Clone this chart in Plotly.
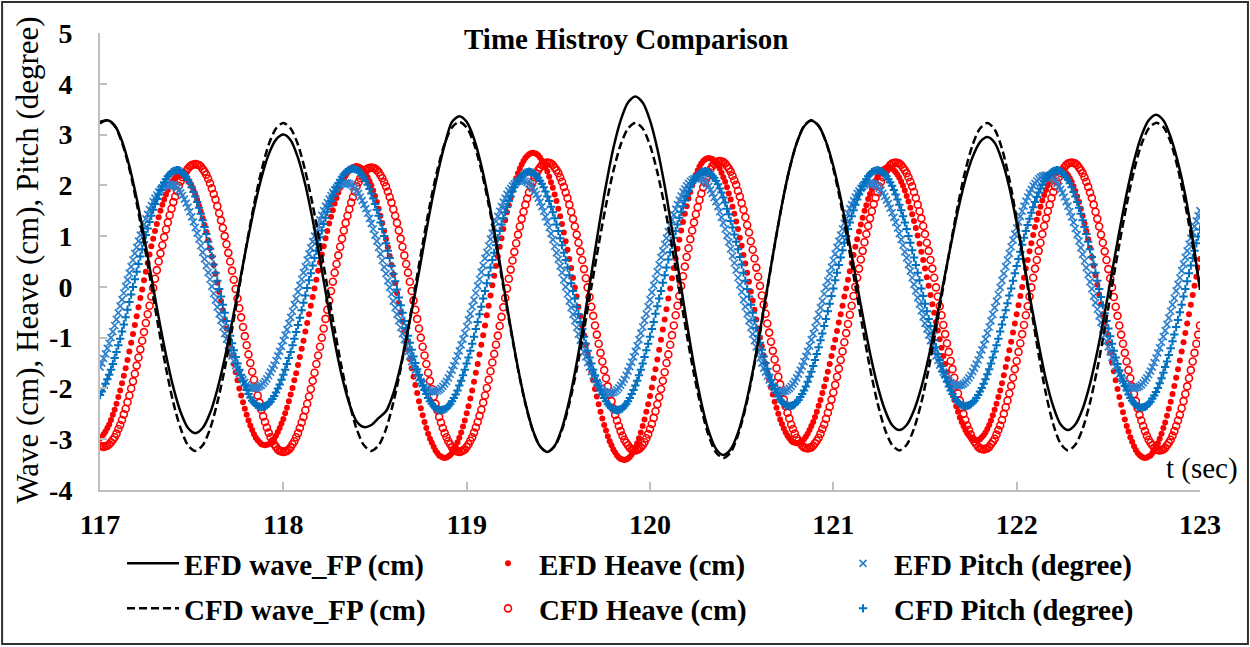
import plotly.graph_objects as go

# ---------------- data ----------------
T0 = 117.0
DT_MARK = 0.01   # sampling step of the heave / pitch series (s)
DT_WAVE = 0.04   # sampling step of the wave series (s)

efd_heave = [
    -2.98, -2.95, -2.90, -2.85, -2.78, -2.71, -2.62, -2.52, -2.42, -2.30, -2.17, -2.04, -1.90, -1.75, -1.60, -1.44, -1.27, -1.10, -0.93, -0.75, -0.58, -0.40, -0.22, -0.05, 0.13, 0.30, 0.47, 0.64, 0.80, 0.95, 1.10, 1.24, 1.37, 1.50, 1.62, 1.72, 1.82, 1.91, 1.98, 2.05, 2.10, 2.15, 2.18, 2.19, 2.20,
    2.20, 2.18, 2.14, 2.10, 2.05, 1.98, 1.90, 1.81, 1.71, 1.60, 1.48, 1.35, 1.22, 1.08, 0.92, 0.76, 0.60, 0.43, 0.26, 0.08, -0.10, -0.28, -0.46, -0.64, -0.82, -1.00, -1.18, -1.35, -1.52, -1.68, -1.84, -2.00, -2.14, -2.27, -2.40, -2.52, -2.63, -2.73, -2.82, -2.90, -2.97, -3.02, -3.06, -3.10, -3.11, -3.12,
    -3.11, -3.10, -3.07, -3.04, -2.99, -2.93, -2.86, -2.78, -2.69, -2.60, -2.49, -2.38, -2.25, -2.12, -1.99, -1.84, -1.70, -1.54, -1.38, -1.22, -1.06, -0.88, -0.71, -0.54, -0.37, -0.20, -0.03, 0.14, 0.32, 0.48, 0.64, 0.80, 0.96, 1.10, 1.25, 1.38, 1.51, 1.64, 1.75, 1.86, 1.95, 2.04, 2.12, 2.19, 2.25, 2.30, 2.33, 2.36, 2.37, 2.38,
    2.37, 2.35, 2.33, 2.28, 2.23, 2.16, 2.08, 2.00, 1.90, 1.79, 1.67, 1.54, 1.40, 1.26, 1.10, 0.94, 0.78, 0.61, 0.43, 0.25, 0.07, -0.12, -0.31, -0.50, -0.68, -0.87, -1.06, -1.24, -1.42, -1.60, -1.77, -1.93, -2.09, -2.25, -2.39, -2.53, -2.66, -2.78, -2.89, -2.99, -3.07, -3.15, -3.22, -3.27, -3.32, -3.34, -3.36, -3.37,
    -3.36, -3.34, -3.31, -3.27, -3.21, -3.14, -3.06, -2.97, -2.87, -2.75, -2.63, -2.49, -2.35, -2.20, -2.04, -1.87, -1.69, -1.52, -1.33, -1.14, -0.95, -0.76, -0.56, -0.37, -0.17, 0.03, 0.22, 0.41, 0.60, 0.79, 0.96, 1.14, 1.31, 1.47, 1.61, 1.76, 1.90, 2.02, 2.14, 2.24, 2.33, 2.41, 2.48, 2.54, 2.58, 2.61, 2.63, 2.64,
    2.63, 2.62, 2.59, 2.55, 2.49, 2.43, 2.35, 2.27, 2.17, 2.06, 1.95, 1.82, 1.69, 1.54, 1.39, 1.24, 1.07, 0.90, 0.73, 0.55, 0.37, 0.18, -0.01, -0.19, -0.39, -0.58, -0.76, -0.95, -1.14, -1.32, -1.50, -1.67, -1.84, -2.01, -2.16, -2.31, -2.46, -2.59, -2.72, -2.83, -2.94, -3.04, -3.12, -3.20, -3.26, -3.32, -3.36, -3.39, -3.40, -3.41,
    -3.40, -3.38, -3.35, -3.30, -3.24, -3.16, -3.08, -2.98, -2.87, -2.74, -2.61, -2.46, -2.31, -2.15, -1.98, -1.80, -1.62, -1.43, -1.24, -1.04, -0.84, -0.64, -0.44, -0.23, -0.03, 0.17, 0.37, 0.56, 0.75, 0.93, 1.11, 1.28, 1.44, 1.59, 1.74, 1.87, 2.00, 2.11, 2.21, 2.29, 2.37, 2.43, 2.48, 2.51, 2.53, 2.54,
    2.53, 2.52, 2.49, 2.44, 2.39, 2.33, 2.25, 2.16, 2.07, 1.96, 1.84, 1.72, 1.58, 1.44, 1.29, 1.14, 0.97, 0.81, 0.63, 0.46, 0.28, 0.10, -0.09, -0.27, -0.45, -0.64, -0.82, -1.00, -1.17, -1.35, -1.51, -1.68, -1.83, -1.98, -2.12, -2.26, -2.38, -2.50, -2.61, -2.70, -2.79, -2.87, -2.93, -2.98, -3.03, -3.06, -3.07, -3.08,
    -3.07, -3.06, -3.03, -3.00, -2.95, -2.89, -2.82, -2.74, -2.66, -2.56, -2.46, -2.34, -2.23, -2.09, -1.96, -1.82, -1.67, -1.52, -1.36, -1.20, -1.04, -0.87, -0.70, -0.54, -0.37, -0.19, -0.03, 0.14, 0.31, 0.47, 0.63, 0.79, 0.94, 1.09, 1.23, 1.36, 1.50, 1.61, 1.73, 1.83, 1.93, 2.01, 2.09, 2.16, 2.22, 2.27, 2.30, 2.33, 2.34, 2.35,
    2.34, 2.33, 2.30, 2.26, 2.21, 2.15, 2.07, 1.99, 1.90, 1.79, 1.68, 1.56, 1.43, 1.30, 1.16, 1.01, 0.85, 0.69, 0.53, 0.36, 0.19, 0.02, -0.16, -0.34, -0.51, -0.69, -0.86, -1.03, -1.20, -1.36, -1.52, -1.68, -1.83, -1.97, -2.10, -2.23, -2.35, -2.46, -2.57, -2.66, -2.74, -2.82, -2.88, -2.93, -2.97, -3.00, -3.01, -3.02,
    -3.01, -3.00, -2.96, -2.92, -2.87, -2.80, -2.72, -2.63, -2.53, -2.42, -2.30, -2.17, -2.04, -1.90, -1.74, -1.58, -1.42, -1.25, -1.08, -0.90, -0.72, -0.54, -0.36, -0.18, 0.00, 0.18, 0.36, 0.53, 0.70, 0.86, 1.02, 1.18, 1.32, 1.45, 1.58, 1.70, 1.81, 1.91, 2.00, 2.08, 2.15, 2.20, 2.24, 2.28, 2.29, 2.30,
    2.29, 2.27, 2.24, 2.20, 2.14, 2.07, 1.98, 1.89, 1.78, 1.67, 1.54, 1.40, 1.25, 1.10, 0.94, 0.77, 0.59, 0.42, 0.23, 0.04, -0.15, -0.34, -0.54, -0.73, -0.92, -1.11, -1.30, -1.49, -1.66, -1.84, -2.01, -2.17, -2.32, -2.47, -2.61, -2.74, -2.85, -2.96, -3.05, -3.14, -3.21, -3.27, -3.31, -3.34, -3.36, -3.37,
    -3.36, -3.34, -3.32, -3.27, -3.22, -3.16, -3.08, -2.99, -2.89, -2.78, -2.67, -2.54, -2.40, -2.26, -2.11, -1.95, -1.79, -1.62, -1.45, -1.27, -1.09, -0.91, -0.72, -0.54, -0.35, -0.16, 0.02, 0.20, 0.38, 0.55,
]

cfd_heave = [
    -3.13, -3.14,
    -3.15, -3.14, -3.13, -3.10, -3.06, -3.01, -2.96, -2.89, -2.80, -2.72, -2.62, -2.51, -2.40, -2.27, -2.14, -2.00, -1.86, -1.71, -1.55, -1.39, -1.23, -1.06, -0.89, -0.71, -0.54, -0.37, -0.19, -0.02, 0.16, 0.33, 0.50, 0.66, 0.82, 0.98, 1.13, 1.27, 1.41, 1.54, 1.67, 1.78, 1.89, 1.99, 2.08, 2.16, 2.23, 2.28, 2.33, 2.37, 2.40, 2.41, 2.42,
    2.41, 2.40, 2.37, 2.32, 2.27, 2.21, 2.13, 2.04, 1.94, 1.83, 1.72, 1.59, 1.45, 1.31, 1.16, 1.00, 0.84, 0.67, 0.50, 0.32, 0.14, -0.04, -0.23, -0.42, -0.60, -0.79, -0.97, -1.15, -1.33, -1.50, -1.67, -1.83, -1.99, -2.14, -2.28, -2.42, -2.55, -2.66, -2.77, -2.87, -2.96, -3.04, -3.10, -3.15, -3.20, -3.23, -3.24, -3.25,
    -3.24, -3.23, -3.20, -3.16, -3.10, -3.04, -2.96, -2.88, -2.78, -2.67, -2.56, -2.43, -2.30, -2.16, -2.01, -1.85, -1.69, -1.52, -1.35, -1.18, -1.00, -0.82, -0.63, -0.45, -0.27, -0.08, 0.10, 0.28, 0.45, 0.62, 0.79, 0.95, 1.11, 1.26, 1.40, 1.53, 1.66, 1.77, 1.88, 1.98, 2.06, 2.14, 2.20, 2.26, 2.30, 2.33, 2.34, 2.35,
    2.34, 2.33, 2.30, 2.26, 2.20, 2.14, 2.06, 1.98, 1.88, 1.77, 1.66, 1.53, 1.40, 1.26, 1.11, 0.95, 0.79, 0.62, 0.45, 0.28, 0.10, -0.08, -0.27, -0.45, -0.63, -0.82, -1.00, -1.18, -1.35, -1.52, -1.69, -1.85, -2.01, -2.16, -2.30, -2.43, -2.56, -2.67, -2.78, -2.88, -2.96, -3.04, -3.10, -3.16, -3.20, -3.23, -3.24, -3.25,
    -3.24, -3.22, -3.20, -3.15, -3.10, -3.03, -2.96, -2.87, -2.77, -2.66, -2.54, -2.42, -2.28, -2.14, -1.99, -1.83, -1.66, -1.49, -1.32, -1.14, -0.96, -0.77, -0.59, -0.40, -0.22, -0.03, 0.16, 0.34, 0.52, 0.69, 0.86, 1.03, 1.19, 1.34, 1.48, 1.62, 1.74, 1.86, 1.97, 2.07, 2.16, 2.23, 2.30, 2.35, 2.40, 2.42, 2.44, 2.45,
    2.44, 2.43, 2.40, 2.35, 2.30, 2.24, 2.16, 2.07, 1.97, 1.86, 1.75, 1.62, 1.48, 1.34, 1.19, 1.03, 0.87, 0.70, 0.53, 0.35, 0.17, -0.01, -0.20, -0.39, -0.57, -0.76, -0.94, -1.12, -1.30, -1.47, -1.64, -1.80, -1.96, -2.11, -2.25, -2.39, -2.52, -2.63, -2.74, -2.84, -2.93, -3.01, -3.07, -3.12, -3.17, -3.20, -3.21, -3.22,
    -3.21, -3.19, -3.16, -3.12, -3.06, -2.98, -2.90, -2.80, -2.70, -2.58, -2.45, -2.31, -2.17, -2.01, -1.85, -1.68, -1.50, -1.33, -1.14, -0.95, -0.76, -0.56, -0.37, -0.18, 0.02, 0.21, 0.40, 0.59, 0.76, 0.94, 1.11, 1.27, 1.43, 1.57, 1.71, 1.84, 1.96, 2.06, 2.16, 2.24, 2.32, 2.38, 2.42, 2.45, 2.47, 2.48,
    2.47, 2.46, 2.43, 2.38, 2.33, 2.27, 2.19, 2.10, 2.01, 1.89, 1.78, 1.65, 1.52, 1.37, 1.22, 1.07, 0.90, 0.73, 0.56, 0.38, 0.20, 0.02, -0.17, -0.35, -0.53, -0.72, -0.90, -1.08, -1.26, -1.43, -1.60, -1.77, -1.92, -2.07, -2.22, -2.35, -2.48, -2.59, -2.71, -2.80, -2.89, -2.97, -3.03, -3.08, -3.13, -3.16, -3.17, -3.18,
    -3.17, -3.16, -3.13, -3.08, -3.03, -2.97, -2.89, -2.80, -2.71, -2.60, -2.48, -2.36, -2.22, -2.08, -1.93, -1.77, -1.61, -1.44, -1.27, -1.09, -0.91, -0.73, -0.55, -0.37, -0.18, 0.00, 0.18, 0.36, 0.54, 0.71, 0.88, 1.04, 1.20, 1.35, 1.49, 1.63, 1.75, 1.87, 1.98, 2.07, 2.16, 2.24, 2.30, 2.35, 2.40, 2.43, 2.44, 2.45,
    2.44, 2.43, 2.40, 2.35, 2.30, 2.24, 2.16, 2.07, 1.98, 1.87, 1.75, 1.62, 1.49, 1.35, 1.20, 1.04, 0.87, 0.71, 0.53, 0.36, 0.18, -0.01, -0.19, -0.38, -0.56, -0.75, -0.93, -1.11, -1.28, -1.46, -1.62, -1.79, -1.95, -2.10, -2.24, -2.37, -2.50, -2.62, -2.73, -2.82, -2.91, -2.99, -3.05, -3.10, -3.15, -3.18, -3.19, -3.20,
    -3.19, -3.18, -3.15, -3.10, -3.05, -2.99, -2.91, -2.82, -2.73, -2.62, -2.50, -2.37, -2.24, -2.10, -1.95, -1.79, -1.62, -1.46, -1.28, -1.11, -0.93, -0.75, -0.56, -0.38, -0.19, -0.01, 0.18, 0.36, 0.53, 0.71, 0.87, 1.04, 1.20, 1.35, 1.49, 1.62, 1.75, 1.87, 1.98, 2.07, 2.16, 2.24, 2.30, 2.35, 2.40, 2.43, 2.44, 2.45,
    2.44, 2.43, 2.40, 2.35, 2.30, 2.24, 2.16, 2.07, 1.97, 1.86, 1.75, 1.62, 1.48, 1.34, 1.19, 1.03, 0.87, 0.70, 0.53, 0.35, 0.17, -0.01, -0.20, -0.39, -0.57, -0.76, -0.94, -1.12, -1.30, -1.47, -1.64, -1.80, -1.96, -2.11, -2.25, -2.39, -2.52, -2.63, -2.74, -2.84, -2.93, -3.01, -3.07, -3.12, -3.17, -3.20, -3.21, -3.22,
    -3.21, -3.20, -3.17, -3.12, -3.07, -3.01, -2.93, -2.84, -2.74, -2.63, -2.52, -2.39, -2.25, -2.11, -1.96, -1.80, -1.64, -1.47, -1.30, -1.12, -0.94, -0.76,
]

efd_pitch = [
    -1.58, -1.50, -1.41, -1.32, -1.21, -1.11, -1.00, -0.88, -0.76, -0.64, -0.51, -0.38, -0.25, -0.12, 0.01, 0.14, 0.27, 0.40, 0.53, 0.66, 0.78, 0.90, 1.02, 1.13, 1.23, 1.34, 1.43, 1.52, 1.60, 1.68, 1.75, 1.81, 1.87, 1.91, 1.95, 1.98, 2.00, 2.01, 2.02,
    2.01, 2.00, 1.98, 1.95, 1.90, 1.85, 1.80, 1.73, 1.65, 1.57, 1.48, 1.38, 1.28, 1.17, 1.06, 0.94, 0.81, 0.68, 0.55, 0.42, 0.28, 0.15, 0.01, -0.13, -0.26, -0.40, -0.53, -0.66, -0.79, -0.92, -1.03, -1.15, -1.26, -1.36, -1.46, -1.55, -1.63, -1.71, -1.78, -1.83, -1.88, -1.93, -1.96, -1.98, -1.99, -2.00,
    -2.00, -1.98, -1.96, -1.94, -1.90, -1.86, -1.81, -1.75, -1.68, -1.61, -1.54, -1.45, -1.36, -1.27, -1.17, -1.06, -0.95, -0.84, -0.72, -0.60, -0.48, -0.35, -0.23, -0.10, 0.03, 0.15, 0.28, 0.40, 0.53, 0.65, 0.77, 0.89, 1.00, 1.11, 1.22, 1.32, 1.41, 1.50, 1.59, 1.66, 1.73, 1.80, 1.86, 1.91, 1.95, 1.99, 2.01, 2.03, 2.04, 2.05,
    2.05, 2.03, 2.01, 1.98, 1.94, 1.89, 1.84, 1.77, 1.70, 1.62, 1.54, 1.45, 1.35, 1.25, 1.14, 1.02, 0.90, 0.78, 0.65, 0.52, 0.39, 0.26, 0.12, -0.01, -0.14, -0.28, -0.41, -0.54, -0.67, -0.80, -0.92, -1.04, -1.16, -1.27, -1.37, -1.47, -1.56, -1.64, -1.72, -1.79, -1.86, -1.91, -1.96, -2.00, -2.03, -2.05, -2.06, -2.07,
    -2.07, -2.05, -2.03, -2.00, -1.96, -1.91, -1.86, -1.79, -1.72, -1.64, -1.55, -1.46, -1.36, -1.26, -1.14, -1.03, -0.91, -0.78, -0.65, -0.53, -0.39, -0.26, -0.12, 0.02, 0.15, 0.29, 0.42, 0.56, 0.68, 0.81, 0.94, 1.06, 1.17, 1.29, 1.39, 1.49, 1.58, 1.67, 1.75, 1.82, 1.89, 1.94, 1.99, 2.03, 2.06, 2.08, 2.09, 2.10,
    2.10, 2.08, 2.06, 2.03, 1.99, 1.94, 1.88, 1.82, 1.75, 1.67, 1.58, 1.49, 1.38, 1.28, 1.17, 1.05, 0.93, 0.80, 0.67, 0.54, 0.41, 0.28, 0.14, 0.00, -0.14, -0.28, -0.41, -0.54, -0.67, -0.80, -0.93, -1.05, -1.17, -1.28, -1.38, -1.49, -1.58, -1.67, -1.75, -1.82, -1.88, -1.94, -1.99, -2.03, -2.06, -2.08, -2.09, -2.10,
    -2.09, -2.08, -2.06, -2.03, -1.99, -1.94, -1.88, -1.82, -1.74, -1.66, -1.57, -1.48, -1.38, -1.27, -1.16, -1.04, -0.91, -0.79, -0.66, -0.53, -0.39, -0.25, -0.11, 0.03, 0.16, 0.30, 0.44, 0.58, 0.71, 0.84, 0.96, 1.09, 1.21, 1.32, 1.42, 1.53, 1.62, 1.71, 1.79, 1.87, 1.93, 1.99, 2.04, 2.08, 2.11, 2.13, 2.14, 2.15,
    2.14, 2.13, 2.11, 2.07, 2.03, 1.98, 1.91, 1.84, 1.76, 1.68, 1.58, 1.48, 1.37, 1.26, 1.14, 1.01, 0.88, 0.75, 0.61, 0.47, 0.33, 0.18, 0.04, -0.10, -0.25, -0.39, -0.53, -0.67, -0.80, -0.93, -1.06, -1.18, -1.29, -1.40, -1.50, -1.60, -1.68, -1.76, -1.83, -1.90, -1.95, -1.99, -2.03, -2.05, -2.06, -2.07,
    -2.06, -2.05, -2.03, -2.00, -1.96, -1.91, -1.86, -1.79, -1.72, -1.64, -1.56, -1.47, -1.37, -1.27, -1.16, -1.04, -0.92, -0.80, -0.67, -0.54, -0.41, -0.28, -0.14, -0.01, 0.12, 0.26, 0.39, 0.52, 0.65, 0.78, 0.90, 1.02, 1.14, 1.25, 1.35, 1.45, 1.54, 1.62, 1.70, 1.77, 1.84, 1.89, 1.94, 1.98, 2.01, 2.03, 2.04, 2.05,
    2.04, 2.03, 2.01, 1.98, 1.94, 1.90, 1.84, 1.78, 1.71, 1.64, 1.55, 1.46, 1.37, 1.27, 1.16, 1.05, 0.93, 0.82, 0.69, 0.57, 0.44, 0.31, 0.18, 0.05, -0.08, -0.21, -0.34, -0.47, -0.59, -0.72, -0.83, -0.95, -1.06, -1.17, -1.27, -1.36, -1.45, -1.54, -1.61, -1.68, -1.74, -1.80, -1.84, -1.88, -1.91, -1.93, -1.94, -1.95,
    -1.94, -1.93, -1.91, -1.88, -1.84, -1.79, -1.74, -1.67, -1.60, -1.52, -1.44, -1.34, -1.24, -1.14, -1.03, -0.91, -0.79, -0.67, -0.54, -0.41, -0.28, -0.15, -0.01, 0.13, 0.26, 0.40, 0.53, 0.66, 0.79, 0.92, 1.04, 1.16, 1.28, 1.39, 1.49, 1.59, 1.69, 1.77, 1.85, 1.92, 1.99, 2.04, 2.09, 2.13, 2.16, 2.18, 2.19, 2.20,
    2.19, 2.18, 2.16, 2.13, 2.09, 2.04, 1.98, 1.92, 1.85, 1.77, 1.68, 1.59, 1.48, 1.38, 1.27, 1.15, 1.03, 0.90, 0.77, 0.64, 0.51, 0.38, 0.24, 0.10, -0.04, -0.18, -0.31, -0.44, -0.57, -0.70, -0.83, -0.95, -1.07, -1.18, -1.28, -1.39, -1.48, -1.57, -1.65, -1.72, -1.78, -1.84, -1.89, -1.93, -1.96, -1.98, -1.99, -2.00,
    -1.99, -1.98, -1.96, -1.93, -1.89, -1.84, -1.79, -1.73, -1.66, -1.58, -1.49, -1.40, -1.30, -1.20, -1.09, -0.98, -0.86, -0.74, -0.61, -0.48, -0.35, -0.22, -0.08, 0.05, 0.18, 0.32, 0.45, 0.58, 0.71, 0.84, 0.96, 1.08, 1.19, 1.30, 1.40, 1.50,
]

cfd_pitch = [
    -2.13, -2.06, -1.99, -1.91, -1.82, -1.73, -1.63, -1.52, -1.40, -1.28, -1.15, -1.02, -0.88, -0.74, -0.60, -0.45, -0.30, -0.15, 0.00, 0.15, 0.30, 0.45, 0.60, 0.74, 0.88, 1.02, 1.15, 1.28, 1.40, 1.52, 1.63, 1.73, 1.82, 1.91, 1.99, 2.06, 2.12, 2.18, 2.22, 2.26, 2.28, 2.29, 2.30,
    2.30, 2.28, 2.25, 2.21, 2.17, 2.11, 2.04, 1.96, 1.87, 1.78, 1.67, 1.56, 1.44, 1.31, 1.18, 1.04, 0.89, 0.75, 0.60, 0.44, 0.28, 0.12, -0.04, -0.19, -0.35, -0.51, -0.67, -0.82, -0.96, -1.11, -1.25, -1.38, -1.51, -1.63, -1.74, -1.85, -1.94, -2.03, -2.11, -2.18, -2.24, -2.28, -2.32, -2.35, -2.36, -2.37,
    -2.36, -2.35, -2.33, -2.30, -2.26, -2.21, -2.15, -2.08, -2.00, -1.92, -1.83, -1.73, -1.63, -1.52, -1.40, -1.28, -1.15, -1.02, -0.89, -0.75, -0.61, -0.46, -0.31, -0.17, -0.02, 0.13, 0.27, 0.42, 0.57, 0.71, 0.85, 0.98, 1.11, 1.24, 1.36, 1.48, 1.59, 1.69, 1.79, 1.88, 1.96, 2.04, 2.11, 2.17, 2.22, 2.26, 2.29, 2.31, 2.32, 2.33,
    2.32, 2.31, 2.29, 2.25, 2.20, 2.15, 2.09, 2.01, 1.93, 1.84, 1.74, 1.63, 1.52, 1.40, 1.27, 1.14, 1.00, 0.86, 0.71, 0.57, 0.41, 0.26, 0.11, -0.05, -0.21, -0.36, -0.51, -0.67, -0.81, -0.96, -1.10, -1.24, -1.37, -1.50, -1.62, -1.73, -1.84, -1.94, -2.03, -2.11, -2.19, -2.25, -2.30, -2.35, -2.39, -2.41, -2.42, -2.43,
    -2.42, -2.41, -2.39, -2.35, -2.31, -2.25, -2.19, -2.12, -2.04, -1.94, -1.85, -1.74, -1.63, -1.51, -1.39, -1.26, -1.12, -0.98, -0.83, -0.69, -0.54, -0.39, -0.23, -0.08, 0.07, 0.23, 0.38, 0.53, 0.67, 0.82, 0.96, 1.10, 1.23, 1.35, 1.47, 1.58, 1.69, 1.78, 1.88, 1.96, 2.03, 2.09, 2.15, 2.19, 2.23, 2.25, 2.26, 2.27,
    2.26, 2.25, 2.23, 2.19, 2.15, 2.09, 2.03, 1.96, 1.88, 1.78, 1.69, 1.58, 1.47, 1.35, 1.23, 1.10, 0.96, 0.82, 0.67, 0.53, 0.38, 0.23, 0.07, -0.08, -0.23, -0.39, -0.54, -0.69, -0.83, -0.98, -1.12, -1.26, -1.39, -1.51, -1.63, -1.74, -1.85, -1.94, -2.04, -2.12, -2.19, -2.25, -2.31, -2.35, -2.39, -2.41, -2.42, -2.43,
    -2.42, -2.41, -2.39, -2.35, -2.31, -2.25, -2.19, -2.11, -2.03, -1.94, -1.85, -1.74, -1.63, -1.51, -1.38, -1.25, -1.12, -0.98, -0.83, -0.69, -0.53, -0.38, -0.23, -0.08, 0.08, 0.23, 0.38, 0.54, 0.68, 0.83, 0.97, 1.10, 1.23, 1.36, 1.48, 1.59, 1.70, 1.79, 1.88, 1.96, 2.04, 2.10, 2.16, 2.20, 2.24, 2.26, 2.27, 2.28,
    2.27, 2.26, 2.23, 2.19, 2.15, 2.09, 2.02, 1.94, 1.86, 1.76, 1.66, 1.54, 1.43, 1.30, 1.17, 1.03, 0.89, 0.74, 0.59, 0.44, 0.28, 0.12, -0.04, -0.19, -0.35, -0.51, -0.66, -0.81, -0.96, -1.10, -1.24, -1.37, -1.50, -1.61, -1.73, -1.83, -1.93, -2.01, -2.09, -2.16, -2.22, -2.26, -2.30, -2.33, -2.34, -2.35,
    -2.34, -2.33, -2.31, -2.27, -2.23, -2.17, -2.11, -2.04, -1.96, -1.87, -1.77, -1.67, -1.56, -1.44, -1.32, -1.19, -1.05, -0.92, -0.77, -0.63, -0.48, -0.33, -0.18, -0.03, 0.13, 0.28, 0.43, 0.58, 0.72, 0.87, 1.00, 1.14, 1.27, 1.39, 1.51, 1.62, 1.72, 1.82, 1.91, 1.99, 2.06, 2.12, 2.18, 2.22, 2.26, 2.28, 2.29, 2.30,
    2.29, 2.28, 2.26, 2.22, 2.18, 2.12, 2.06, 1.99, 1.91, 1.82, 1.72, 1.62, 1.51, 1.39, 1.27, 1.14, 1.00, 0.87, 0.72, 0.58, 0.43, 0.28, 0.13, -0.03, -0.18, -0.33, -0.48, -0.63, -0.77, -0.92, -1.05, -1.19, -1.32, -1.44, -1.56, -1.67, -1.77, -1.87, -1.96, -2.04, -2.11, -2.17, -2.23, -2.27, -2.31, -2.33, -2.34, -2.35,
    -2.34, -2.33, -2.31, -2.28, -2.24, -2.19, -2.13, -2.06, -1.99, -1.91, -1.82, -1.72, -1.62, -1.51, -1.39, -1.27, -1.15, -1.02, -0.88, -0.74, -0.60, -0.46, -0.32, -0.17, -0.03, 0.12, 0.27, 0.41, 0.55, 0.69, 0.83, 0.97, 1.10, 1.22, 1.34, 1.46, 1.57, 1.67, 1.77, 1.86, 1.94, 2.01, 2.08, 2.14, 2.19, 2.23, 2.26, 2.28, 2.29, 2.30,
    2.29, 2.28, 2.25, 2.21, 2.16, 2.11, 2.04, 1.96, 1.87, 1.78, 1.67, 1.56, 1.44, 1.31, 1.18, 1.04, 0.89, 0.74, 0.59, 0.44, 0.28, 0.12, -0.04, -0.20, -0.36, -0.52, -0.67, -0.82, -0.97, -1.12, -1.26, -1.39, -1.52, -1.64, -1.75, -1.86, -1.95, -2.04, -2.12, -2.19, -2.24, -2.29, -2.33, -2.36, -2.37, -2.38,
    -2.37, -2.36, -2.34, -2.30, -2.26, -2.20, -2.14, -2.07, -1.99, -1.90, -1.80, -1.69, -1.58, -1.47, -1.34, -1.21, -1.07, -0.94, -0.79, -0.65, -0.50, -0.35, -0.19, -0.04, 0.11, 0.27, 0.42, 0.57, 0.71, 0.86, 0.99, 1.13,
]

efd_wave = [
    3.22, 3.28,
    3.18, 2.87, 2.38, 1.74, 1.00, 0.20, -0.60, -1.34, -1.98, -2.47, -2.78, -2.88,
    -2.78, -2.49, -2.02, -1.41, -0.70, 0.06, 0.82, 1.53, 2.14, 2.61, 2.90, 3.00,
    2.89, 2.54, 2.01, 1.32, 0.53, -0.29, -1.08, -1.77, -2.30, -2.65, -2.76,
    -2.72, -2.58, -2.45, -2.10, -1.55, -0.85, -0.10, 0.70, 1.50, 2.20, 2.80, 3.25, 3.36,
    3.25, 2.92, 2.39, 1.71, 0.91, 0.06, -0.80, -1.60, -2.28, -2.81, -3.14, -3.25,
    -3.13, -2.78, -2.23, -1.50, -0.66, 0.25, 1.16, 2.00, 2.73, 3.28, 3.63, 3.75,
    3.63, 3.28, 2.72, 1.99, 1.13, 0.22, -0.69, -1.55, -2.28, -2.84, -3.19, -3.31,
    -3.20, -2.87, -2.35, -1.67, -0.87, -0.02, 0.83, 1.63, 2.31, 2.83, 3.16, 3.27,
    3.17, 2.86, 2.38, 1.75, 1.01, 0.23, -0.56, -1.30, -1.93, -2.41, -2.72, -2.82,
    -2.72, -2.43, -1.98, -1.38, -0.68, 0.07, 0.81, 1.51, 2.11, 2.56, 2.85, 2.95,
    2.84, 2.49, 1.96, 1.26, 0.48, -0.35, -1.13, -1.83, -2.36, -2.71, -2.82,
    -2.71, -2.40, -1.91, -1.27, -0.52, 0.29, 1.09, 1.84, 2.48, 2.97, 3.28, 3.39,
    3.28, 2.95, 2.45, 1.80, 0.95, -0.06,
]

cfd_wave = [
    3.25, 3.28,
    3.17, 2.84, 2.33, 1.65, 0.87, 0.03, -0.82, -1.60, -2.28, -2.79, -3.12, -3.23,
    -3.12, -2.80, -2.28, -1.62, -0.84, 0.00, 0.84, 1.62, 2.28, 2.80, 3.12, 3.23,
    3.12, 2.80, 2.28, 1.62, 0.84, 0.00, -0.84, -1.62, -2.28, -2.80, -3.12, -3.23,
    -3.12, -2.80, -2.28, -1.61, -0.83, 0.01, 0.85, 1.63, 2.30, 2.82, 3.14, 3.25,
    3.14, 2.82, 2.30, 1.62, 0.84, 0.00, -0.84, -1.62, -2.30, -2.82, -3.14, -3.25,
    -3.14, -2.82, -2.30, -1.63, -0.85, -0.01, 0.83, 1.61, 2.28, 2.80, 3.12, 3.23,
    3.12, 2.79, 2.26, 1.58, 0.79, -0.07, -0.93, -1.72, -2.40, -2.93, -3.26, -3.37,
    -3.26, -2.92, -2.40, -1.71, -0.91, -0.05, 0.82, 1.62, 2.31, 2.83, 3.17, 3.28,
    3.17, 2.85, 2.33, 1.66, 0.87, 0.03, -0.81, -1.60, -2.27, -2.79, -3.11, -3.22,
    -3.11, -2.79, -2.28, -1.61, -0.83, 0.01, 0.84, 1.62, 2.29, 2.80, 3.12, 3.23,
    3.10, 2.72, 2.12, 1.34, 0.46, -0.45, -1.33, -2.11, -2.71, -3.09, -3.22,
    -3.11, -2.79, -2.28, -1.61, -0.83, 0.01, 0.84, 1.62, 2.29, 2.80, 3.12, 3.23,
    3.15, 2.85, 2.32, 1.62, 0.82, 0.00,
]

x_ticks = [117, 118, 119, 120, 121, 122, 123]
y_ticks = [-4, -3, -2, -1, 0, 1, 2, 3, 4, 5]

names = {
    "efd_wave": "EFD wave_FP (cm)",
    "efd_heave": "EFD Heave (cm)",
    "efd_pitch": "EFD Pitch (degree)",
    "cfd_wave": "CFD wave_FP (cm)",
    "cfd_heave": "CFD Heave (cm)",
    "cfd_pitch": "CFD Pitch (degree)",
}

# ---------------- styling ----------------
SERIF = "Liberation Serif, Times New Roman, Times, serif"
RED = "#FF0000"
BLUE_X = "#2F80CC"
BLUE_P = "#0070C0"
AXIS_GREY = "#BFBFBF"

fig = go.Figure()

# row 1 of the legend -> "legend", row 2 -> "legend2"
fig.add_trace(go.Scatter(
    x0=T0, dx=DT_MARK, y=efd_heave, mode="markers", name=names["efd_heave"],
    legend="legend", legendrank=2,
    marker=dict(symbol="circle", size=6, color=RED, line=dict(width=0)),
))
fig.add_trace(go.Scatter(
    x0=T0, dx=DT_MARK, y=cfd_heave, mode="markers", name=names["cfd_heave"],
    legend="legend2", legendrank=2,
    marker=dict(symbol="circle-open", size=7, color=RED, line=dict(width=1.6, color=RED)),
))
fig.add_trace(go.Scatter(
    x0=T0, dx=DT_MARK, y=efd_pitch, mode="markers", name=names["efd_pitch"],
    legend="legend", legendrank=3,
    marker=dict(symbol="x-thin", size=7, color=BLUE_X, line=dict(width=1.7, color=BLUE_X)),
))
fig.add_trace(go.Scatter(
    x0=T0, dx=DT_MARK, y=cfd_pitch, mode="markers", name=names["cfd_pitch"],
    legend="legend2", legendrank=3,
    marker=dict(symbol="cross-thin", size=6, color=BLUE_P, line=dict(width=2, color=BLUE_P)),
))
fig.add_trace(go.Scatter(
    x0=T0, dx=DT_WAVE, y=cfd_wave, mode="lines", name=names["cfd_wave"],
    legend="legend2", legendrank=1,
    line=dict(color="black", width=2.5, dash="8px,4px", shape="spline", smoothing=0.8),
))
fig.add_trace(go.Scatter(
    x0=T0, dx=DT_WAVE, y=efd_wave, mode="lines", name=names["efd_wave"],
    legend="legend", legendrank=1,
    line=dict(color="black", width=2.5, shape="spline", smoothing=0.8),
))

tick_font = dict(family=SERIF, size=28, color="black", weight="bold")

fig.update_xaxes(
    range=[117, 123], tickmode="array", tickvals=x_ticks, ticktext=[str(v) for v in x_ticks],
    ticks="inside", ticklen=8, tickwidth=1.5, tickcolor=AXIS_GREY,
    showline=True, linecolor=AXIS_GREY, linewidth=2,
    showgrid=False, zeroline=False, tickfont=tick_font, ticklabelstandoff=8,
)
fig.update_yaxes(
    range=[-4, 5], tickmode="array", tickvals=y_ticks, ticktext=[str(v) for v in y_ticks],
    ticks="inside", ticklen=7, tickwidth=1.5, tickcolor=AXIS_GREY,
    showline=True, linecolor=AXIS_GREY, linewidth=2,
    showgrid=False, zeroline=False, tickfont=tick_font, ticklabelstandoff=20,
)

legend_common = dict(
    orientation="h", x=0.02, xanchor="left", yanchor="top",
    font=dict(family=SERIF, size=29, color="black", weight="bold"),
    entrywidth=288, entrywidthmode="pixels", bgcolor="rgba(0,0,0,0)",
    itemwidth=52, traceorder="normal",
)

fig.update_layout(
    width=1250, height=647, autosize=False,
    margin=dict(l=100, r=50, t=33, b=157, pad=0),
    plot_bgcolor="white", paper_bgcolor="white",
    showlegend=True,
    legend=dict(legend_common, y=-0.105),
    legend2=dict(legend_common, y=-0.2035),
    annotations=[
        dict(text="Time Histroy Comparison", xref="paper", yref="paper", x=0.478, y=0.987,
             xanchor="center", yanchor="middle", showarrow=False,
             font=dict(family=SERIF, size=29, color="black", weight="bold")),
        dict(text="Wave (cm), Heave (cm), Pitch (degree)", xref="paper", yref="paper",
             x=-0.066, y=0.503, xanchor="center", yanchor="middle", textangle=-90, showarrow=False,
             font=dict(family=SERIF, size=31, color="black")),
        dict(text="t (sec)", xref="paper", yref="paper", x=1.036, y=0.046,
             xanchor="right", yanchor="middle", showarrow=False,
             font=dict(family=SERIF, size=29, color="black")),
    ],
    shapes=[
        dict(type="rect", xref="paper", yref="paper", x0=-0.089, x1=1.0436, y0=-0.337, y1=1.068,
             line=dict(color="#303030", width=2), fillcolor="rgba(0,0,0,0)", layer="above"),
    ],
)

fig.write_html("out.html")
